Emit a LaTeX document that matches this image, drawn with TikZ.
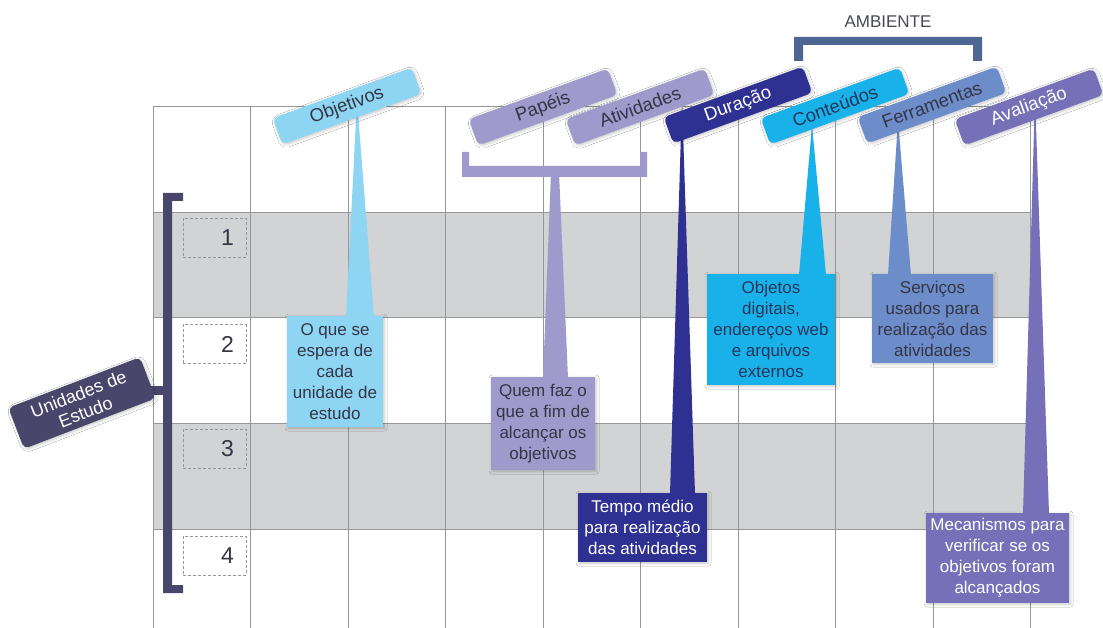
\documentclass[tikz,border=0pt]{standalone}
\usepackage{fontspec}
\setmainfont{Liberation Sans}
\usetikzlibrary{shadows.blur}
\definecolor{rowgray}{HTML}{D1D3D4}
\definecolor{gridline}{HTML}{979797}
\definecolor{objblue}{HTML}{8DD5F2}
\definecolor{lav}{HTML}{9F9ACC}
\definecolor{navy}{HTML}{2E3192}
\definecolor{cyanc}{HTML}{19B1EA}
\definecolor{steel}{HTML}{6C8DCA}
\definecolor{purp}{HTML}{7670B8}
\definecolor{slate}{HTML}{48466A}
\definecolor{ambc}{HTML}{4E6693}
\definecolor{darktxt}{HTML}{353545}
\definecolor{bluetxt}{HTML}{24375A}
\tikzset{
  softshadow/.style={blur shadow={shadow xshift=1.2pt, shadow yshift=-1.2pt, shadow blur radius=3pt, shadow opacity=22}},
  tabbox/.style={rounded corners=5pt, minimum width=148pt, minimum height=28pt, rotate=20, inner sep=0pt, font=\fontsize{18.5}{21}\selectfont, softshadow},
  infobox/.style={inner sep=0pt, align=center, font=\fontsize{17}{21}\selectfont, softshadow},
  numbox/.style={draw=gridline, dash pattern=on 3pt off 2pt, line width=0.8pt, minimum width=63pt, minimum height=39pt, inner sep=0pt},
  numtxt/.style={font=\fontsize{23}{26}\selectfont, text=darktxt, inner sep=0pt},
  gridl/.style={draw=gridline, line width=1pt},
}
\begin{document}
\begin{tikzpicture}[x=1pt,y=-1pt]
\useasboundingbox (0,0) rectangle (1103,628);
\fill[white] (0,0) rectangle (1103,628);
% rows
\fill[rowgray] (153,212.7) rectangle (1030.95,317.7);
\fill[rowgray] (153,423) rectangle (1030.95,529);
% grid
\foreach \i in {0,...,9} \draw[gridl] ({153+97.55*\i},107) -- ({153+97.55*\i},628);
\foreach \yy in {107,212.7,317.7,423,529} \draw[gridl] (153,\yy) -- (1030.95,\yy);
% number boxes
\foreach \n/\yy in {1/237.5,2/344,3/448.5,4/555.5}{
  \node[numbox] (nb\n) at (214.5,\yy) {};
  \node[numtxt] (nt\n) at ([xshift=13pt]nb\n.center) {\n};
}
% left bracket
\fill[slate] (183,193) -- (163,193) -- (163,593) -- (183,593) -- (183,585) -- (172,585) -- (172,201) -- (183,201) -- cycle;
\fill[slate] (148,386) rectangle (165,395);
\node[tabbox, fill=slate, text=white, minimum width=141pt, minimum height=44pt, rotate=1, align=center, font=\fontsize{18}{19.5}\selectfont] (unid) at (82,403) {Unidades de\\Estudo};
% info boxes
\node[infobox, fill=objblue, text=darktxt, minimum width=96pt, minimum height=111pt] (objbox) at (335,371.5) {O que se\\espera de\\cada\\unidade de\\estudo};
\node[infobox, fill=lav, text=darktxt, minimum width=104pt, minimum height=93pt] (quembox) at (543,423.5) {Quem faz o\\que a fim de\\alcançar os\\objetivos};
\node[infobox, fill=navy, text=white, minimum width=129pt, minimum height=69pt] (tempobox) at (642.5,527.5) {Tempo médio\\para realização\\das atividades};
\node[infobox, fill=cyanc, text=bluetxt, minimum width=128pt, minimum height=111pt] (objetosbox) at (771,329.5) {Objetos\\digitais,\\endereços web\\e arquivos\\externos};
\node[infobox, fill=steel, text=darktxt, minimum width=121pt, minimum height=89pt] (servbox) at (932.5,318.5) {Serviços\\usados para\\realização das\\atividades};
\node[infobox, fill=purp, text=white, minimum width=143pt, minimum height=90pt] (mecbox) at (997.5,558) {Mecanismos para\\verificar se os\\objetivos foram\\alcançados};
% wedges
\coordinate (objtip) at (357,100);
\coordinate (quemtip1) at (551,172);
\coordinate (quemtip2) at (559,172);
\coordinate (durtip) at (682,100);
\coordinate (contip) at (812,125);
\coordinate (ferrtip) at (898,120);
\coordinate (avaltip) at (1035,95);
\fill[objblue] (objtip) -- (346,317) -- (374,317) -- cycle;
\fill[lav] (quemtip1) -- (543,378) -- (568,378) -- (quemtip2) -- cycle;
\fill[navy] (durtip) -- (670,494) -- (695,494) -- cycle;
\fill[cyanc] (contip) -- (799,275) -- (826,275) -- cycle;
\fill[steel] (ferrtip) -- (888,275) -- (911,275) -- cycle;
\fill[purp] (avaltip) -- (1023,514) -- (1049,514) -- cycle;
% papeis/atividades bracket
\fill[lav] (462,152) -- (462,177) -- (647,177) -- (647,152) -- (640,152) -- (640,166) -- (469,166) -- (469,152) -- cycle;
% ambiente bracket
\fill[ambc] (794,61) -- (794,37) -- (982,37) -- (982,61) -- (973,61) -- (973,45) -- (803,45) -- (803,61) -- cycle;
\node[font=\fontsize{17}{20}\selectfont, text=darktxt!90] (amb) at (888,22) {AMBIENTE};
% tabs
\node[tabbox, fill=objblue, text=darktxt] (tobj) at (347,106) {Objetivos};
\node[tabbox, fill=lav, text=darktxt] (tpap) at (543,107) {Papéis};
\node[tabbox, fill=lav, text=darktxt] (tativ) at (640,107) {Atividades};
\node[tabbox, fill=navy, text=white] (tdur) at (738,105) {Duração};
\node[tabbox, fill=cyanc, text=bluetxt] (tcon) at (835,106) {Conteúdos};
\node[tabbox, fill=steel, text=darktxt] (tferr) at (932,105) {Ferramentas};
\node[tabbox, fill=purp, text=white] (taval) at (1029,107) {Avaliação};
\end{tikzpicture}
\end{document}
